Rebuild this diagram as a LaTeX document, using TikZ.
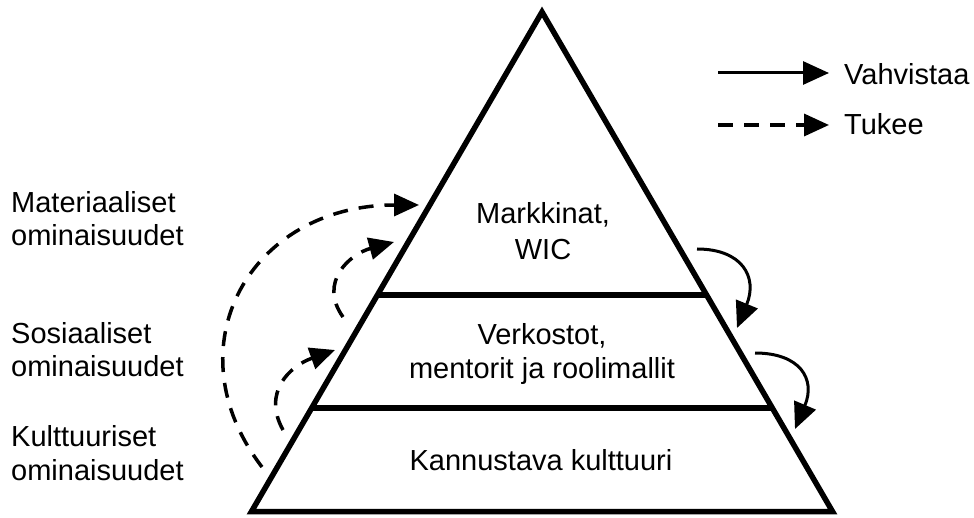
\documentclass[tikz,border=0pt]{standalone}
\usepackage{fontspec}
\setmainfont{Liberation Sans}
\usetikzlibrary{arrows.meta,calc}
\begin{document}
\begin{tikzpicture}[x=1pt,y=1pt,
  tier/.style={draw, line width=5.5pt, line join=miter},
  lbl/.style={font=\fontsize{29}{33.5}\selectfont, inner sep=0pt, align=center},
  strong/.style={line width=3pt, -{Triangle[length=26pt,width=23pt]}},
  weak/.style={line width=3.5pt, dash pattern=on 15pt off 11pt,
               -{Triangle[length=25pt,width=22pt]}}]
\useasboundingbox (0,0) rectangle (974,517);

% pyramid outline and tier dividers
\coordinate (A) at (542,505);
\coordinate (L) at (251.5,5.5);
\coordinate (R) at (832.5,5.5);
\draw[tier] (A) -- (L) -- (R) -- cycle;
\draw[tier] ($(L)!0.4334!(A)$) -- ($(R)!0.4334!(A)$);
\draw[tier] ($(L)!0.2072!(A)$) -- ($(R)!0.2072!(A)$);

% tier texts (anchored at the baseline of the last line)
\node[lbl, anchor=base] (top) at (543,257) {Markkinat,\\[2.5pt]WIC};
\node[lbl, anchor=base] (mid) at (542,139) {Verkostot,\\[0.5pt]mentorit ja roolimallit};
\node[lbl, anchor=base] (bot) at (541,47) {Kannustava kulttuuri};

% side labels
\node[lbl, align=left, anchor=base west] (mat) at (11,271) {Materiaaliset\\ominaisuudet};
\node[lbl, align=left, anchor=base west] (sos) at (11,140) {Sosiaaliset\\ominaisuudet};
\node[lbl, align=left, anchor=base west] (kul) at (11,37) {Kulttuuriset\\ominaisuudet};

% legend
\coordinate (ls1) at (718,444);
\coordinate (le1) at (829,444);
\coordinate (ls2) at (718,392);
\coordinate (le2) at (829,392);
\draw[strong] (ls1) -- (le1);
\draw[weak] (ls2) -- (le2);
\node[lbl, anchor=base west] (vah) at (844,432) {Vahvistaa};
\node[lbl, anchor=base west] (tuk) at (844,382) {Tukee};

% supporting (dashed) arcs on the left
\coordinate (w1s) at (262,50);
\coordinate (w1e) at (419,312);
\draw[weak] (w1s) .. controls (170,170) and (250,312) .. (w1e);
\coordinate (w2s) at (283,87);
\coordinate (w2e) at (335,167);
\draw[weak] (w2s) .. controls (262,125) and (290,151) .. (w2e);
\coordinate (w3s) at (343,200);
\coordinate (w3e) at (394,275);
\draw[weak] (w3s) .. controls (318,235) and (350,263) .. (w3e);

% reinforcing (solid) arcs on the right
\coordinate (s1s) at (697,268);
\coordinate (s1e) at (737,189);
\draw[strong] (s1s) .. controls (742,268) and (758,240) .. (s1e);
\coordinate (s2s) at (755,164);
\coordinate (s2e) at (795,88);
\draw[strong] (s2s) .. controls (800,164) and (816,138) .. (s2e);
\end{tikzpicture}
\end{document}
